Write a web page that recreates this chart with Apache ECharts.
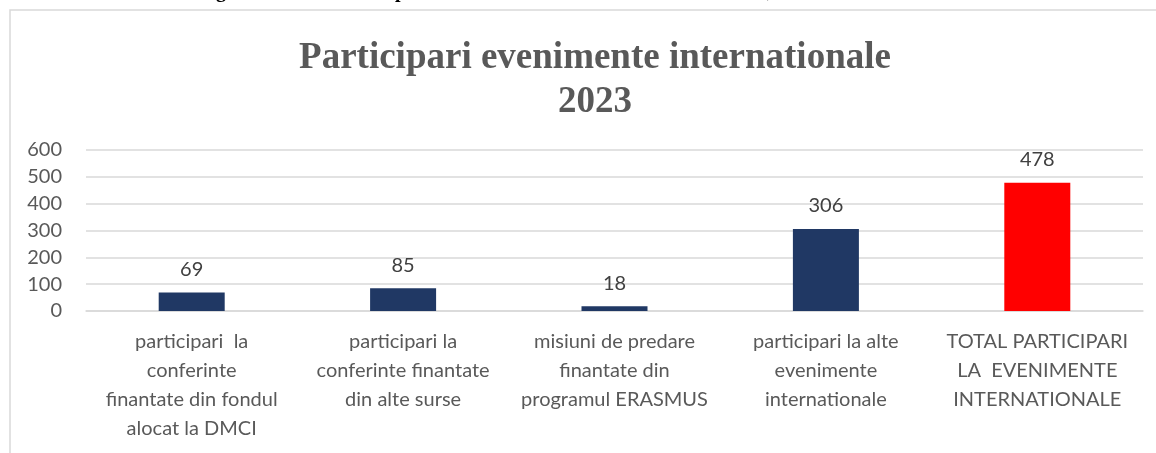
<!DOCTYPE html>
<html>
<head>
<meta charset="utf-8">
<script src="https://cdn.jsdelivr.net/npm/echarts@6/dist/echarts.min.js"></script>
<style>
  html, body { margin: 0; padding: 0; background: #fff; }
  #chart { width: 1156px; height: 453px; }
</style>
</head>
<body>
<div id="chart"></div>
<script>
// chart data
const categories = [
  'participari  la\nconferinte\nfinantate din fondul\nalocat la DMCI',
  'participari la\nconferinte finantate\ndin alte surse',
  'misiuni de predare\nfinantate din\nprogramul ERASMUS',
  'participari la alte\nevenimente\ninternationale',
  'TOTAL PARTICIPARI\nLA  EVENIMENTE\nINTERNATIONALE'
];
const values = [69, 85, 18, 306, 478];
const barColors = ['#203864', '#203864', '#203864', '#203864', '#ff0000'];
const yTicks = [0, 100, 200, 300, 400, 500, 600];

const chart = echarts.init(document.getElementById('chart'));

const option = {
  animation: false,
  title: {
    text: 'Participari evenimente internationale\n2023',
    left: 590,
    textAlign: 'center',
    top: 31,
    textStyle: {
      fontFamily: 'Liberation Serif',
      fontWeight: 'bold',
      fontSize: 37,
      lineHeight: 44,
      color: '#595959'
    }
  },
  graphic: [
    // frame of the chart area
    {
      type: 'rect',
      shape: { x: 10, y: 10, width: 1200, height: 500 },
      style: { fill: 'none', stroke: '#d9d9d9', lineWidth: 1.5 }
    },
    // bottom of the document caption, cut off above the chart
    { type: 'text', x: 216, y: -18, style: { text: 'g', font: 'bold 20px Liberation Serif', fill: '#000' } },
    { type: 'text', x: 395, y: -18, style: { text: 'p', font: 'bold 20px Liberation Serif', fill: '#000' } },
    { type: 'text', x: 767, y: -18, style: { text: ',', font: 'bold 20px Liberation Serif', fill: '#000' } }
  ],
  grid: {
    left: 86,
    right: 13,
    top: 150,
    bottom: 142,
    containLabel: false
  },
  xAxis: {
    type: 'category',
    data: categories,
    axisLine: { show: true, lineStyle: { color: '#d9d9d9', width: 1.5 } },
    axisTick: { show: false },
    axisLabel: {
      interval: 0,
      margin: 16,
      fontFamily: 'Lato',
      fontSize: 20,
      lineHeight: 29,
      color: '#595959'
    }
  },
  yAxis: {
    type: 'value',
    min: yTicks[0],
    max: yTicks[yTicks.length - 1],
    interval: 100,
    axisLine: { show: false },
    axisTick: { show: false },
    splitLine: { lineStyle: { color: '#d9d9d9', width: 1.5 } },
    axisLabel: {
      margin: 24,
      fontFamily: 'Lato',
      fontSize: 20,
      color: '#595959'
    }
  },
  series: [{
    type: 'bar',
    barWidth: 66,
    data: values.map((v, i) => ({ value: v, itemStyle: { color: barColors[i] } })),
    label: {
      show: true,
      position: 'top',
      distance: 13,
      fontFamily: 'Lato',
      fontSize: 20,
      color: '#404040'
    }
  }]
};

chart.setOption(option);
</script>
</body>
</html>
